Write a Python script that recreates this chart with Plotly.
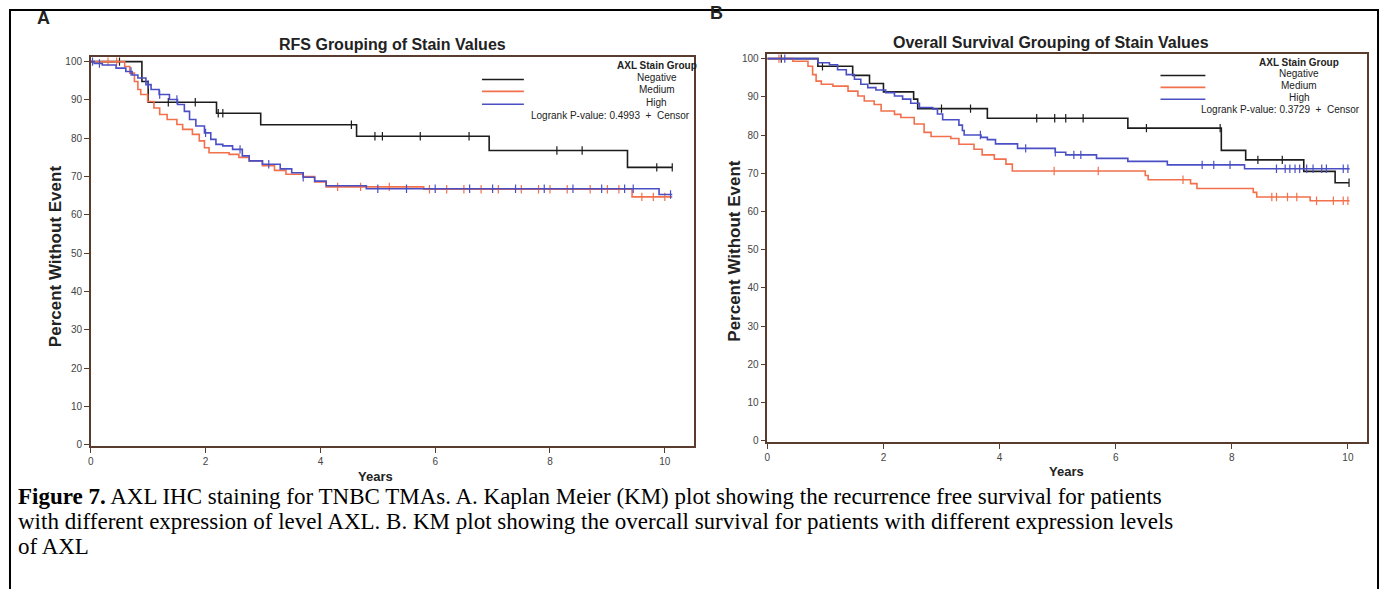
import numpy as np
import plotly.graph_objects as go

# ---------------- data ----------------
groups = ["Negative", "Medium", "High"]

# Panel A : RFS
A_neg_t = [0, 0.89, 1.0, 2.19, 2.96, 4.63, 6.94, 9.35, 10.13]
A_neg_s = [100, 94.8, 89.4, 86.5, 83.5, 80.5, 76.8, 72.4, 72.4]
A_neg_c = [0.5, 1.35, 1.82, 2.22, 2.3, 4.54, 4.95, 5.08, 5.74, 6.59, 8.12, 8.56, 9.86, 10.13]

A_med_t = [0, 0.59, 0.68, 0.76, 0.82, 0.87, 0.99, 1.1, 1.2, 1.33, 1.5, 1.6, 1.77, 1.89, 1.98,
           2.06, 2.41, 2.58, 2.76, 2.99, 3.2, 3.4, 3.7, 3.9, 4.1, 5.8, 9.43, 10.13]
A_med_s = [100, 98.7, 97.0, 94.8, 92.7, 91.4, 89.6, 87.9, 86.2, 84.9, 83.6, 82.3, 81.0, 79.3, 77.5,
           76.2, 75.8, 75.0, 74.1, 72.8, 71.6, 70.6, 70.0, 68.6, 67.3, 66.7, 64.7, 64.7]
A_med_c = [0.3, 0.45, 4.3, 4.7, 5.2, 5.9, 6.2, 6.5, 6.8, 7.1, 7.5, 7.8, 8.0, 8.3, 8.7, 9.0, 9.2,
           9.6, 9.8, 10.0]

A_high_t = [0, 0.06, 0.2, 0.44, 0.61, 0.72, 0.82, 0.96, 1.05, 1.19, 1.37, 1.51, 1.63, 1.72, 1.83,
            1.98, 2.09, 2.18, 2.3, 2.47, 2.64, 2.76, 2.99, 3.3, 3.5, 3.7, 3.9, 4.1, 4.8, 9.9, 10.13]
A_high_s = [100, 99.5, 99.1, 98.3, 97.4, 96.5, 95.7, 94.0, 92.7, 91.4, 90.1, 88.8, 87.0, 84.9, 83.2,
            81.4, 79.7, 78.4, 78.0, 77.1, 75.4, 74.1, 73.2, 72.0, 71.0, 69.8, 68.8, 67.6, 66.8, 65.3, 65.3]
A_high_c = [0.03, 0.15, 0.7, 1.0, 1.2, 1.5, 2.0, 2.6, 3.1, 3.7, 5.0, 5.5, 6.0, 6.6, 7.0, 7.4, 7.9,
            8.4, 8.9, 9.3, 9.45, 10.1]

# Panel B : Overall survival
B_neg_t = [0, 0.87, 1.47, 1.76, 2.0, 2.52, 2.59, 3.79, 6.21, 7.82, 8.24, 9.24, 9.78, 10.02]
B_neg_s = [100, 98.0, 95.6, 93.5, 91.3, 89.4, 86.9, 84.4, 81.8, 76.0, 73.5, 70.5, 67.5, 67.5]
B_neg_c = [0.24, 0.95, 3.0, 3.5, 4.64, 4.95, 5.14, 5.44, 6.53, 7.8, 8.45, 8.87, 10.02]

B_med_t = [0, 0.44, 0.7, 0.78, 0.84, 0.93, 1.13, 1.39, 1.56, 1.67, 1.84, 1.96, 2.19, 2.3, 2.53,
           2.7, 2.82, 3.16, 3.3, 3.56, 3.7, 3.91, 4.11, 4.22, 6.51, 6.56, 7.29, 7.4, 8.37, 8.43,
           9.35, 10.03]
B_med_s = [100, 99.3, 98.0, 95.8, 94.1, 93.3, 92.8, 91.5, 90.2, 88.9, 88.0, 86.3, 85.4, 84.6, 82.9,
           80.7, 79.6, 79.1, 77.6, 76.3, 74.8, 73.7, 72.4, 70.6, 69.4, 68.3, 67.3, 66.0, 65.0, 63.8,
           62.8, 62.8]
B_med_c = [0.2, 4.94, 5.7, 7.16, 8.69, 8.77, 8.96, 9.12, 9.46, 9.75, 9.92, 10.0]

B_high_t = [0, 0.87, 1.07, 1.21, 1.36, 1.5, 1.61, 1.73, 1.87, 2.04, 2.19, 2.33, 2.47, 2.62, 2.85,
            2.93, 3.02, 3.3, 3.36, 3.39, 3.68, 3.79, 3.93, 4.31, 4.96, 5.14, 5.67, 6.21, 6.89, 8.22,
            10.03]
B_high_s = [100, 98.9, 98.4, 97.1, 95.8, 94.6, 93.3, 92.4, 91.8, 91.1, 90.2, 89.4, 88.3, 87.2, 86.8,
            85.5, 84.0, 82.6, 81.2, 80.0, 79.4, 78.8, 77.7, 76.5, 75.5, 74.8, 73.9, 73.1, 72.2, 71.2,
            71.2]
B_high_c = [0.3, 3.67, 4.45, 4.96, 5.28, 5.4, 7.49, 7.69, 7.97, 8.77, 8.92, 9.0, 9.09, 9.17, 9.29,
            9.4, 9.55, 9.63, 9.92, 10.0]

y_ticks = [0, 10, 20, 30, 40, 50, 60, 70, 80, 90, 100]
x_ticks = [0, 2, 4, 6, 8, 10]

title_A = "RFS Grouping of Stain Values"
title_B = "Overall Survival Grouping of Stain Values"
pval_A = "Logrank P-value: 0.4993  +  Censor"
pval_B = "Logrank P-value: 0.3729  +  Censor"
caption = [
    "<b>Figure 7.</b> AXL IHC staining for TNBC TMAs. A. Kaplan Meier (KM) plot showing the recurrence free survival for patients",
    "with different expression of level AXL. B. KM plot showing the overcall survival for patients with different expression levels",
    "of AXL",
]

# ---------------- styling ----------------
W, H = 1384, 589
colors = {"Negative": "#1c1c1c", "Medium": "#f2704c", "High": "#4a4fc4"}
frame_col = "#5a3c2e"
FONT = "Liberation Sans Narrow, Arial Narrow, Liberation Sans, Arial, sans-serif"


def px(x):
    return x / W


def py(y):
    return 1 - y / H


def step_val(t, s, c):
    idx = np.searchsorted(np.asarray(t), np.asarray(c), side="right") - 1
    return np.asarray(s)[idx]


fig = go.Figure()

panels = {
    "A": (("x", "y"), [(A_neg_t, A_neg_s, A_neg_c), (A_med_t, A_med_s, A_med_c),
                       (A_high_t, A_high_s, A_high_c)]),
    "B": (("x2", "y2"), [(B_neg_t, B_neg_s, B_neg_c), (B_med_t, B_med_s, B_med_c),
                         (B_high_t, B_high_s, B_high_c)]),
}

for key, ((xa, ya), series) in panels.items():
    for g, (t, s, c) in zip(groups, series):
        fig.add_trace(go.Scatter(x=t, y=s, mode="lines", line=dict(color=colors[g], width=1.6, shape="hv"),
                                 xaxis=xa, yaxis=ya, showlegend=False, hoverinfo="skip"))
        fig.add_trace(go.Scatter(x=c, y=step_val(t, s, c), mode="markers",
                                 marker=dict(symbol="line-ns", size=6, line=dict(color=colors[g], width=1.2)),
                                 xaxis=xa, yaxis=ya, showlegend=False, hoverinfo="skip"))

axis_common = dict(showline=True, mirror=True, linecolor=frame_col, linewidth=1.5, ticks="outside",
                   ticklen=5, tickcolor=frame_col, showgrid=False, zeroline=False,
                   tickfont=dict(family=FONT, size=10, color="#444"))

fig.update_layout(
    width=W, height=H, margin=dict(l=0, r=0, t=0, b=0),
    paper_bgcolor="white", plot_bgcolor="white",
    xaxis=dict(domain=[px(88), px(692)], range=[0, 10.5], tickvals=x_ticks, anchor="y", **axis_common),
    yaxis=dict(domain=[py(449), py(57)], range=[-0.3, 101.3], tickvals=y_ticks, anchor="x", **axis_common),
    xaxis2=dict(domain=[px(766), px(1367)], range=[0, 10.33], tickvals=x_ticks, anchor="y2", **axis_common),
    yaxis2=dict(domain=[py(445), py(54)], range=[-0.3, 101.3], tickvals=y_ticks, anchor="x2", **axis_common),
)

ann = []


def text(x, y, s, size, bold=False, xanchor="center", family=FONT, color="#222", angle=0):
    ann.append(dict(x=px(x), y=py(y), xref="paper", yref="paper", text=f"<b>{s}</b>" if bold else s,
                    showarrow=False, xanchor=xanchor, yanchor="middle", textangle=angle,
                    font=dict(family=family, size=size, color=color)))


# panel letters
text(41, 18, "A", 18, bold=True, family="Liberation Sans, Arial")
text(715, 13, "B", 18, bold=True, family="Liberation Sans, Arial")
# titles
text(390, 45, title_A, 16, bold=True)
text(1050, 43, title_B, 16, bold=True)
# axis titles
text(52, 258, "Percent Without Event", 17, bold=True, angle=-90)
text(733, 252, "Percent Without Event", 17, bold=True, angle=-90)
text(373, 480, "Years", 13, bold=True)
text(1066, 475, "Years", 13, bold=True)

# legends
shapes = []
leg = {
    "A": dict(lx=(480, 522), tx=655, ys=(66, 78, 90, 103), py=116, pr=690, p=pval_A),
    "B": dict(lx=(1160, 1205), tx=1299, ys=(63, 74, 86, 98), py=110, pr=1362, p=pval_B),
}
for k, L in leg.items():
    text(L["tx"], L["ys"][0], "AXL Stain Group", 10, bold=True)
    for g, yy in zip(groups, L["ys"][1:]):
        text(L["tx"], yy, g, 10)
        shapes.append(dict(type="line", xref="paper", yref="paper", x0=px(L["lx"][0]), x1=px(L["lx"][1]),
                           y0=py(yy + 2), y1=py(yy + 2), line=dict(color=colors[g], width=1.6)))
    text(L["pr"], L["py"], L["p"], 10, xanchor="right")

# caption
for i, line in enumerate(caption):
    text(13, 500 + 25 * i, line, 23, xanchor="left", family="Liberation Serif, Times New Roman, serif",
         color="#000")

# outer border
shapes.append(dict(type="rect", xref="paper", yref="paper", x0=px(7), x1=px(1378), y0=-0.02, y1=py(10),
                   line=dict(color="black", width=2)))

fig.update_layout(annotations=ann, shapes=shapes)
fig.write_html("out.html", config={"displayModeBar": False},
               post_script="document.body.style.margin='0px';")
